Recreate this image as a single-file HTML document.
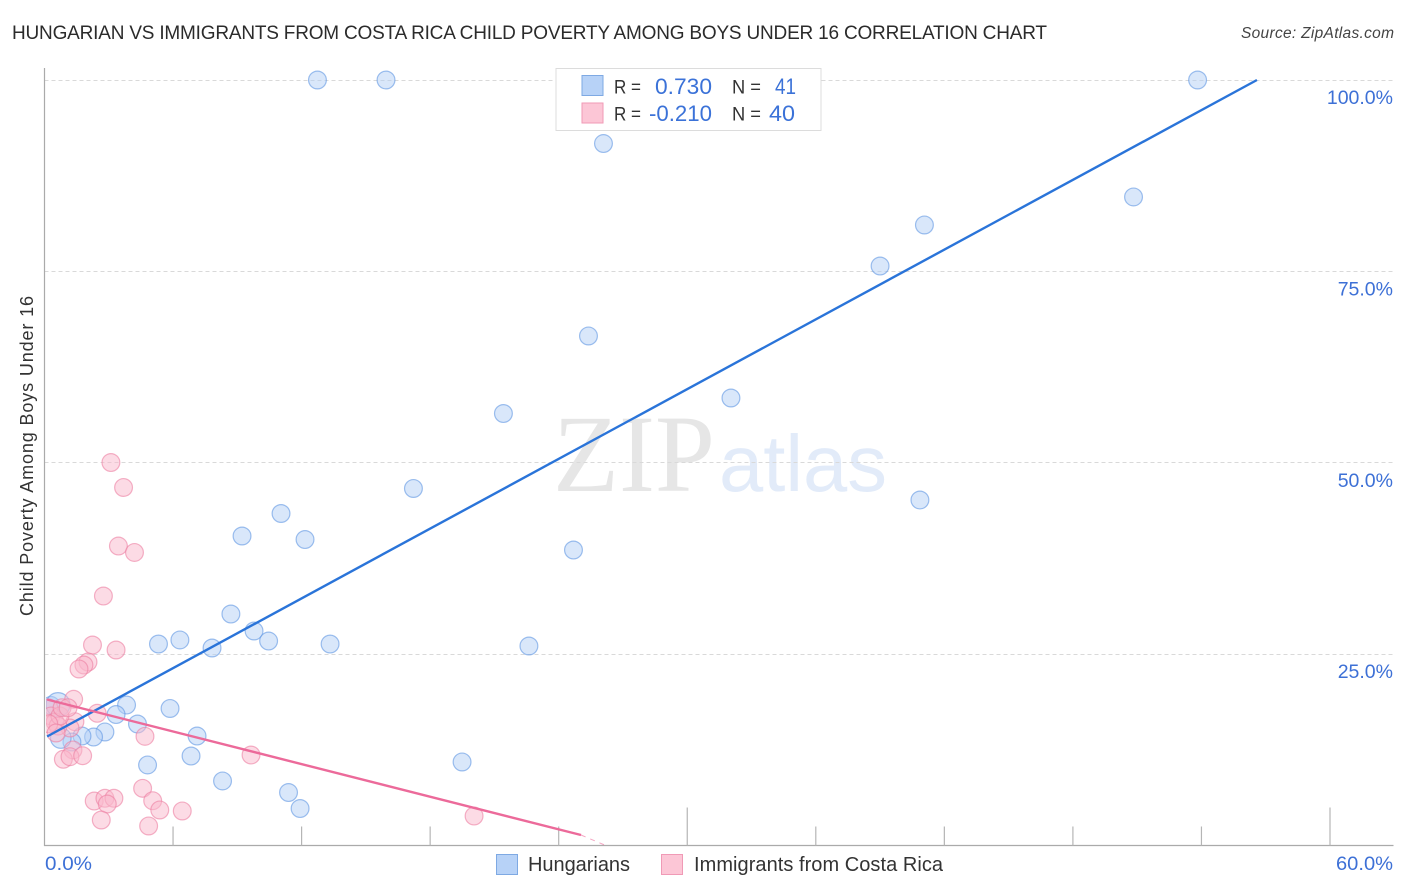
<!DOCTYPE html>
<html lang="en">
<head>
<meta charset="utf-8">
<title>Hungarian vs Immigrants from Costa Rica Child Poverty Correlation Chart</title>
<style>
html,body{margin:0;padding:0;background:#fff;}
body{width:1406px;height:892px;overflow:hidden;}
svg{display:block;font-family:"Liberation Sans",sans-serif;}
</style>
</head>
<body>
<svg id="chart" xmlns="http://www.w3.org/2000/svg" width="1406" height="892" viewBox="0 0 1406 892">
  <defs>
    <clipPath id="plot-clip"><rect x="46" y="60" width="1350" height="786"/></clipPath>
  </defs>
  <text x="12" y="39" font-size="19" fill="#2b2b2b" textLength="1035" lengthAdjust="spacing">HUNGARIAN VS IMMIGRANTS FROM COSTA RICA CHILD POVERTY AMONG BOYS UNDER 16 CORRELATION CHART</text>
  <text x="1394" y="38" font-size="15.5" font-style="italic" fill="#444" text-anchor="end" textLength="153" lengthAdjust="spacing">Source: ZipAtlas.com</text>
  <g>
    <text x="553" y="491" font-family="'Liberation Serif',serif" font-size="110" fill="#e6e6e6" textLength="162" lengthAdjust="spacingAndGlyphs">ZIP</text>
    <text x="719" y="491" font-size="80" fill="#e2ebf9" textLength="168" lengthAdjust="spacingAndGlyphs">atlas</text>
  </g>
  <g id="grid"></g>
  <g id="axes"></g>
  <g id="points" clip-path="url(#plot-clip)"></g>
  <g id="trends"></g>
  <text transform="translate(33,456) rotate(-90)" font-size="18" fill="#333" text-anchor="middle" textLength="320" lengthAdjust="spacing">Child Poverty Among Boys Under 16</text>

  <g>
    <rect x="556" y="68.5" width="265" height="62" fill="#fff" stroke="#dcdcdc" stroke-width="1"/>
    <rect x="582" y="75.5" width="21" height="20" fill="#b7d2f7" stroke="#7ea9e3"/>
    <rect x="582" y="103" width="21" height="20" fill="#fcc6d6" stroke="#f09ab6"/>
    <g font-size="19" fill="#333">
      <text x="614" y="93.5" textLength="27" lengthAdjust="spacingAndGlyphs">R =</text>
      <text x="732" y="93.5" textLength="29" lengthAdjust="spacingAndGlyphs">N =</text>
      <text x="614" y="120.5" textLength="27" lengthAdjust="spacingAndGlyphs">R =</text>
      <text x="732" y="120.5" textLength="29" lengthAdjust="spacingAndGlyphs">N =</text>
    </g>
    <g font-size="22" fill="#3b72d8">
      <text x="655" y="94" textLength="57" lengthAdjust="spacingAndGlyphs">0.730</text>
      <text x="775" y="94" textLength="21" lengthAdjust="spacingAndGlyphs">41</text>
      <text x="649" y="121" textLength="63" lengthAdjust="spacingAndGlyphs">-0.210</text>
      <text x="769" y="121" textLength="26" lengthAdjust="spacingAndGlyphs">40</text>
    </g>
  </g>

  <g>
    <rect x="496.5" y="854.5" width="21" height="20" fill="#b7d2f7" stroke="#7ea9e3"/>
    <text x="528" y="871" font-size="20" fill="#333" textLength="102" lengthAdjust="spacing">Hungarians</text>
    <rect x="661.5" y="854.5" width="21" height="20" fill="#fcc6d6" stroke="#f09ab6"/>
    <text x="694" y="871" font-size="20" fill="#333" textLength="249" lengthAdjust="spacing">Immigrants from Costa Rica</text>
  </g>
</svg>
<script>
const hungarianX = [12.74,15.94,53.82,26.09,50.83,41.07,39.0,25.39,32.04,21.42,17.22,40.86,11.04,9.22,12.16,24.69,8.70,9.78,10.46,5.32,6.32,7.82,13.33,22.61,3.83,5.86,3.34,4.34,2.82,2.29,1.75,7.12,1.28,6.84,4.81,19.49,8.31,11.39,11.93,0.3];
const hungarianY = [100,100,100,91.7,84.72,81.06,75.7,66.56,58.46,56.43,46.64,45.13,43.37,40.43,39.97,38.6,30.24,28.02,26.71,26.32,26.85,25.8,26.32,26.06,18.35,17.9,17.11,15.87,14.83,14.17,14.3,14.3,13.52,11.69,10.52,10.91,8.43,6.92,4.83,18.3];
const hungarianLargeX = [0.63];
const hungarianLargeY = [18.4];
const hungarianMediumX = [0.76];
const hungarianMediumY = [14.04];
const costaRicaX = [3.10,3.69,3.45,4.2,2.75,2.24,3.34,2.03,1.84,1.61,1.36,2.46,1.42,1.19,4.69,9.64,1.33,0.88,1.19,1.78,2.32,2.82,3.24,2.93,2.65,4.58,5.05,5.38,6.43,4.86,20.05,0.2,0.3,0.49,0.63,0.72,0.2,0.82,0.54,1.1];
const costaRicaY = [50.03,46.77,39.12,38.28,32.59,26.19,25.54,23.97,23.58,23.06,19.1,17.27,16.17,15.35,14.26,11.82,12.48,11.26,11.6,11.73,5.81,6.17,6.17,5.42,3.33,7.47,5.85,4.64,4.51,2.55,3.85,17.96,16.92,16.13,15.6,16.92,15.9,18,14.7,18];
const hungarianTrendX = [0.12,56.59];
const hungarianTrendY = [14.24,100];
const costaRicaTrendX = [0.12,25.04];
const costaRicaTrendY = [19.07,1.37];
const costaRicaTrendExtX = [25.04,26.2];
const costaRicaTrendExtY = [1.37,0];
const yTicks = [25,50,75,100];
const yTickLabels = ["25.0%","50.0%","75.0%","100.0%"];
const xTicks = [0,6,12,18,24,30,36,42,48,54,60];
const xMajorTicks = [30,60];
const xEndLabels = ["0.0%","60.0%"];

const NS = 'http://www.w3.org/2000/svg';
const xScale = v => 44.5 + v * 21.425;
const yScale = v => 845.5 - v * 7.655;
const BLUE_FILL = '#b3cff6', BLUE_STROKE = '#5f96e2';
const PINK_FILL = '#f9b8cc', PINK_STROKE = '#ec7ea2';

function make(tag, attrs, parent) {
  const el = document.createElementNS(NS, tag);
  for (const k in attrs) el.setAttribute(k, attrs[k]);
  parent.appendChild(el);
  return el;
}

const grid = document.getElementById('grid');
const axes = document.getElementById('axes');
const points = document.getElementById('points');
const trends = document.getElementById('trends');

yTicks.forEach((v, i) => {
  const gy = Math.floor(yScale(v)) + 0.5;
  const line = make('line', {x1: 44.5, x2: 1393, y1: gy, y2: gy, stroke: '#d9d9d9', 'stroke-width': 1, 'stroke-dasharray': '4 3'}, grid);
  
  
  const label = make('text', {x: 1393, y: yScale(v) + 24, 'font-size': 19.5, fill: '#3d70d6', 'text-anchor': 'end'}, axes);
  label.textContent = yTickLabels[i];
  
  
});

const yAxis = make('line', {x1: 44.5, x2: 44.5, y1: 68, y2: 846, stroke: '#aaa', 'stroke-width': 1.2}, axes);


const xAxis = make('line', {x1: 44, x2: 1393.5, y1: 845.5, y2: 845.5, stroke: '#aaa', 'stroke-width': 1.2}, axes);



xTicks.forEach(v => {
  if (v === 0) return;
  const len = xMajorTicks.includes(v) ? 38 : 19;
  const tick = make('line', {x1: xScale(v), x2: xScale(v), y1: 845.5 - len, y2: 845.5, stroke: '#b5b5b5', 'stroke-width': 1.2}, axes);
  
  
});

const xLabelStart = make('text', {x: 45, y: 870, 'font-size': 19.5, fill: '#3d70d6', textLength: 47, lengthAdjust: 'spacingAndGlyphs'}, axes);
xLabelStart.textContent = xEndLabels[0];


const xLabelEnd = make('text', {x: 1336, y: 870, 'font-size': 19.5, fill: '#3d70d6', textLength: 57, lengthAdjust: 'spacingAndGlyphs'}, axes);
xLabelEnd.textContent = xEndLabels[1];



function drawSeries(xs, ys, r, fill, stroke, nameTag) {
  xs.forEach((x, i) => {
    const c = make('circle', {cx: xScale(x), cy: yScale(ys[i]), r: r, fill: fill, 'fill-opacity': 0.5, stroke: stroke, 'stroke-opacity': 0.6, 'stroke-width': 1.2}, points);
    
    
  });
}
drawSeries(hungarianX, hungarianY, 8.9, BLUE_FILL, BLUE_STROKE, 'hungarian-point');
drawSeries(hungarianMediumX, hungarianMediumY, 10.3, BLUE_FILL, BLUE_STROKE, 'hungarian-point');
drawSeries(hungarianLargeX, hungarianLargeY, 12, BLUE_FILL, BLUE_STROKE, 'hungarian-point');
drawSeries(costaRicaX, costaRicaY, 8.9, PINK_FILL, PINK_STROKE, 'costa-rica-point');

const blueTrend = make('line', {x1: xScale(hungarianTrendX[0]), y1: yScale(hungarianTrendY[0]), x2: xScale(hungarianTrendX[1]), y2: yScale(hungarianTrendY[1]), stroke: '#2a74d9', 'stroke-width': 2.4}, trends);


const pinkTrend = make('line', {x1: xScale(costaRicaTrendX[0]), y1: yScale(costaRicaTrendY[0]), x2: xScale(costaRicaTrendX[1]), y2: yScale(costaRicaTrendY[1]), stroke: '#ec6a9a', 'stroke-width': 2.4}, trends);


const pinkExt = make('line', {x1: xScale(costaRicaTrendExtX[0]), y1: yScale(costaRicaTrendExtY[0]), x2: xScale(costaRicaTrendExtX[1]), y2: yScale(costaRicaTrendExtY[1]), stroke: '#ec6a9a', 'stroke-width': 1, 'stroke-opacity': 0.6, 'stroke-dasharray': '5 5'}, trends);


</script>
</body>
</html>
